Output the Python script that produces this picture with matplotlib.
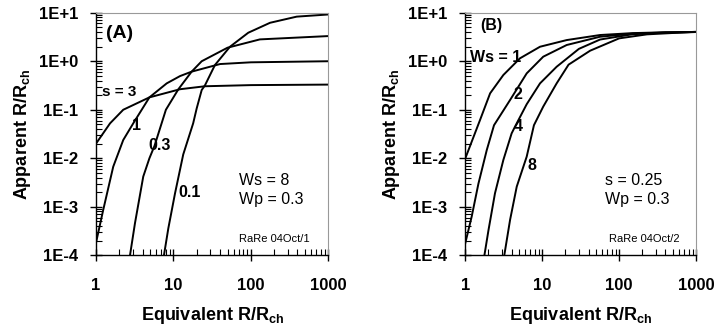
import matplotlib
matplotlib.use("Agg")
import matplotlib.pyplot as plt
from matplotlib.ticker import LogLocator, FixedLocator, NullFormatter

plt.rcParams['font.family'] = ['Liberation Sans', 'DejaVu Sans']
plt.rcParams['mathtext.fontset'] = 'custom'
plt.rcParams['mathtext.rm'] = 'Liberation Sans'
plt.rcParams['mathtext.bf'] = 'Liberation Sans:bold'

# ---------------- Panel A data (Ws = 8, Wp = 0.3) ----------------
a_s3_x = [1, 1.52, 2.25, 4.9, 12.2, 25.6, 100, 1000]
a_s3_y = [0.020, 0.0525, 0.10, 0.18, 0.265, 0.305, 0.322, 0.33]

a_s1_x = [1, 1.24, 1.67, 2.25, 3.03, 4.9, 8.2, 12.2, 17.2, 40, 100, 1000]
a_s1_y = [1.8e-4, 8.6e-4, 6.7e-3, 0.0238, 0.0525, 0.18, 0.35, 0.495, 0.61, 0.875, 0.95, 1.0]

a_s03_x = [2.75, 3.19, 4.08, 4.9, 5.7, 8.0, 11.6, 17.2, 23.2, 50, 131, 1000]
a_s03_y = [1e-4, 4.6e-4, 4.2e-3, 0.01, 0.018, 0.1, 0.265, 0.61, 1.0, 1.9, 2.82, 3.3]

a_s01_x = [7.55, 8.6, 10.5, 13.4, 18, 20, 23.2, 25.6, 34.4, 53.8, 92.7, 177, 391, 1000]
a_s01_y = [1e-4, 3.6e-4, 1.9e-3, 0.012, 0.0525, 0.107, 0.255, 0.32, 0.836, 1.99, 3.87, 6.2, 8.3, 9.2]

# ---------------- Panel B data (s = 0.25, Wp = 0.3) ----------------
b_w1_x = [1, 1.55, 2.1, 3.12, 5.14, 9.36, 20.8, 56.5, 150, 400, 1000]
b_w1_y = [0.010, 0.061, 0.218, 0.52, 1.15, 1.99, 2.73, 3.47, 3.8, 3.95, 4.0]

b_w2_x = [1, 1.21, 1.48, 1.9, 2.36, 3.81, 6.28, 10.3, 20.8, 56.5, 150, 400, 1000]
b_w2_y = [1.8e-4, 6.3e-4, 3.0e-3, 0.0148, 0.048, 0.158, 0.562, 1.24, 2.16, 3.2, 3.7, 3.92, 4.0]

b_w4_x = [1.77, 2.0, 2.43, 3.12, 4.0, 4.43, 6.28, 9.36, 15.4, 30, 56.5, 150, 400, 1000]
b_w4_y = [1e-4, 3.3e-4, 1.9e-3, 9.2e-3, 0.0326, 0.045, 0.13, 0.35, 0.77, 1.8, 2.8, 3.6, 3.9, 4.0]

b_w8_x = [3.21, 3.82, 4.66, 6.28, 7.8, 10.3, 15.4, 22, 42, 100, 230, 1000]
b_w8_y = [1e-4, 5.4e-4, 2.6e-3, 0.0108, 0.048, 0.116, 0.35, 0.85, 1.65, 2.96, 3.58, 4.05]

x_ticks = [1, 10, 100, 1000]
x_ticklabels = ['1', '10', '100', '1000']
y_ticks = [1e-4, 1e-3, 1e-2, 1e-1, 1e0, 1e1]
y_ticklabels = ['1E-4', '1E-3', '1E-2', '1E-1', '1E+0', '1E+1']

fig = plt.figure(figsize=(7.2, 3.32), dpi=100)
axA = fig.add_axes([0.1333, 0.2310, 0.3226, 0.7307])
axB = fig.add_axes([0.6463, 0.2310, 0.3204, 0.7307])

def style(ax):
    ax.set_xscale('log')
    ax.set_yscale('log')
    ax.set_xlim(1, 1000)
    ax.set_ylim(1e-4, 10)
    ax.xaxis.set_major_locator(FixedLocator(x_ticks))
    ax.set_xticklabels(x_ticklabels)
    ax.yaxis.set_major_locator(FixedLocator(y_ticks))
    ax.set_yticklabels(y_ticklabels)
    ax.xaxis.set_minor_locator(LogLocator(base=10, subs=range(2, 10)))
    ax.yaxis.set_minor_locator(LogLocator(base=10, subs=range(2, 10)))
    ax.xaxis.set_minor_formatter(NullFormatter())
    ax.yaxis.set_minor_formatter(NullFormatter())
    ax.tick_params(which='major', direction='inout', length=8, width=1.0,
                   labelsize=12)
    ax.tick_params(axis='x', which='major', pad=12)
    ax.tick_params(axis='y', which='major', pad=9)
    ax.tick_params(which='minor', direction='in', length=4, width=0.8)
    ax.tick_params(top=False, right=False, which='both')
    for lab in ax.get_xticklabels() + ax.get_yticklabels():
        lab.set_fontweight('bold')
    ax.spines['left'].set_color('black')
    ax.spines['bottom'].set_color('black')
    ax.spines['left'].set_linewidth(1.0)
    ax.spines['bottom'].set_linewidth(1.0)
    ax.spines['top'].set_color('#999999')
    ax.spines['right'].set_color('#999999')
    ax.spines['top'].set_linewidth(0.8)
    ax.spines['right'].set_linewidth(0.8)
    ax.set_xlabel(r'Equivalent R/R$_{\mathbf{ch}}$', fontsize=13, fontweight='bold', labelpad=9)
    ax.set_ylabel(r'Apparent R/R$_{\mathbf{ch}}$', fontsize=13, fontweight='bold', labelpad=4)

lw = 1.4
for xs, ys in [(a_s3_x, a_s3_y), (a_s1_x, a_s1_y), (a_s03_x, a_s03_y), (a_s01_x, a_s01_y)]:
    axA.plot(xs, ys, color='black', lw=lw, clip_on=True)
for xs, ys in [(b_w1_x, b_w1_y), (b_w2_x, b_w2_y), (b_w4_x, b_w4_y), (b_w8_x, b_w8_y)]:
    axB.plot(xs, ys, color='black', lw=lw, clip_on=True)

style(axA)
style(axB)

tA = axA.transAxes
axA.text(0.043, 0.916, '(A)', transform=tA, fontsize=14, fontweight='bold', va='center', ha='left')
axA.text(0.026, 0.673, 's = 3', transform=tA, fontsize=11, fontweight='bold', va='center', ha='left')
axA.text(0.176, 0.537, '1', transform=tA, fontsize=11.5, fontweight='bold', va='center', ha='center')
axA.text(0.224, 0.453, '0.3', transform=tA, fontsize=11.5, fontweight='bold', va='center', ha='left')
axA.text(0.353, 0.257, '0.1', transform=tA, fontsize=11.5, fontweight='bold', va='center', ha='left')
axA.text(0.616, 0.310, 'Ws = 8', transform=tA, fontsize=11.5, va='center', ha='left')
axA.text(0.616, 0.228, 'Wp = 0.3', transform=tA, fontsize=11.5, va='center', ha='left')
axA.text(0.616, 0.067, 'RaRe 04Oct/1', transform=tA, fontsize=8, va='center', ha='left')

tB = axB.transAxes
axB.text(0.064, 0.949, '(B)', transform=tB, fontsize=11.5, fontweight='bold', va='center', ha='left')
axB.text(0.020, 0.817, 'Ws = 1', transform=tB, fontsize=11.5, fontweight='bold', va='center', ha='left')
axB.text(0.228, 0.661, '2', transform=tB, fontsize=11.5, fontweight='bold', va='center', ha='center')
axB.text(0.228, 0.529, '4', transform=tB, fontsize=11.5, fontweight='bold', va='center', ha='center')
axB.text(0.289, 0.372, '8', transform=tB, fontsize=11.5, fontweight='bold', va='center', ha='center')
axB.text(0.606, 0.310, 's = 0.25', transform=tB, fontsize=11.5, va='center', ha='left')
axB.text(0.606, 0.228, 'Wp = 0.3', transform=tB, fontsize=11.5, va='center', ha='left')
axB.text(0.623, 0.067, 'RaRe 04Oct/2', transform=tB, fontsize=8, va='center', ha='left')

fig.savefig('out.png', dpi=100)
